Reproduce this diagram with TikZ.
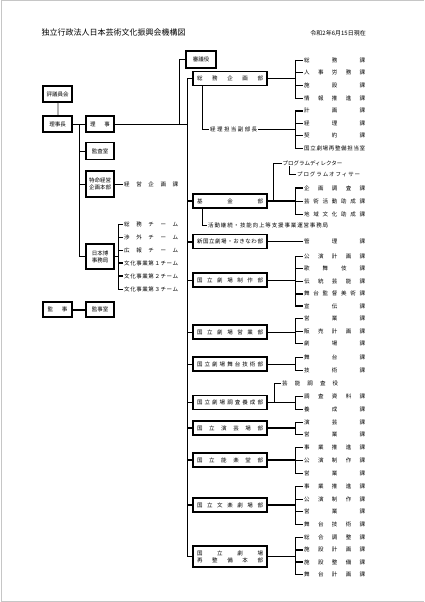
\documentclass[tikz,border=0pt]{standalone}
\usepackage{fontspec}
\setmainfont{Noto Sans CJK JP}
\def\jwend{JWEND}
\newcommand\jwsep[1]{\ifx#1\jwend\else\hfil#1\expandafter\jwsep\fi}
\newcommand\jwfirst[1]{#1\jwsep}
\newcommand\spr[2]{\makebox[#1][s]{\expandafter\jwfirst#2\jwend}}
\newcommand\fsz{\fontsize{5.5}{7}\selectfont}
\tikzset{
  lbox/.style={draw,line width=1.2pt,inner sep=0pt,minimum width=29pt,minimum height=16pt,font=\fsz},
  dbox/.style={draw,line width=1.3pt,inner sep=0pt,minimum width=74pt,minimum height=14pt,font=\fsz},
  item/.style={inner sep=1pt,anchor=west,font=\fsz},
  ln/.style={line width=0.8pt},
  thk/.style={line width=2pt}
}
\newcommand\brk[3]{\draw[ln] (#1.west -| B) -- (#2.west -| B);
  \foreach \i in {#3} \draw[ln] (\i.west -| B) -- (\i.west);}
\begin{document}
\begin{tikzpicture}[x=1pt,y=-1pt]
\useasboundingbox (0,0) rectangle (424,602);
\draw[gray!45,line width=1pt] (424,0.5) -- (1,0.5) -- (1,601.5) -- (424,601.5);
\node[font=\fontsize{8}{9}\selectfont] (title) at (113.5,33) {独立行政法人日本芸術文化振興会機構図};
\node[font=\fontsize{6}{7}\selectfont,anchor=east,inner sep=0pt] (date) at (366,33) {令和2年6月15日現在};
% left side
\node[lbox] (hyogi) at (57.5,94) {評議員会};
\node[lbox] (rijicho) at (57.5,124) {理事長};
\node[lbox,minimum width=28pt] (riji) at (100,124) {\spr{20pt}{理事}};
\node[lbox,minimum width=28pt,minimum height=17pt] (kansa) at (100,151) {監査室};
\node[lbox,minimum width=28pt,minimum height=26pt,align=center] (tokumei) at (100,184) {特命経営\\企画本部};
\node[lbox,minimum width=28pt,minimum height=25pt,align=center] (haku) at (100,256.5) {日本博\\事務局};
\node[lbox,minimum height=15pt] (kanji) at (57.5,309.5) {\spr{20pt}{監事}};
\node[lbox,minimum width=28pt,minimum height=15pt] (kanjishitsu) at (100,309.5) {監事室};
\draw[gray!60,line width=2pt] (hyogi) -- (rijicho);
\draw[ln] (rijicho) -- (riji);
\coordinate (L) at (79,124);
\draw[ln] (L) |- (kansa.west);
\draw[ln] (L) |- (tokumei.west);
\draw[ln] (L) |- (haku.west);
\draw[thk] (kanji) -- (kanjishitsu);
\node[item] (keiei) at (123,184) {\spr{54pt}{経営企画課}};
\draw[ln] (tokumei.east) -- (keiei.west);
\coordinate (TB) at (118,0);
\node[item] (t1) at (123,224) {\spr{54pt}{総務チーム}};
\node[item] (t2) at (123,237) {\spr{54pt}{渉外チーム}};
\node[item] (t3) at (123,250) {\spr{54pt}{広報チーム}};
\node[item] (t4) at (123,263) {\spr{54pt}{文化事業第１チーム}};
\node[item] (t5) at (123,276) {\spr{54pt}{文化事業第２チーム}};
\node[item] (t6) at (123,289) {\spr{54pt}{文化事業第３チーム}};
\draw[ln] (haku.east) -- (haku.east -| TB);
\draw[ln] (t1.west -| TB) -- (t6.west -| TB);
\foreach \i in {t1,t2,t3,t6} \draw[ln] (\i.west -| TB) -- (\i.west);
\foreach \i in {t4,t5} \draw[thk] (\i.west -| TB) -- (\i.west);
% divisions
\node[lbox,minimum width=30pt,minimum height=17pt] (shingi) at (201,59.5) {審議役};
\node[dbox] (somu) at (230,78.5) {\spr{66pt}{総務企画部}};
\node[dbox] (kikin) at (230,201) {\spr{66pt}{基金部}};
\node[dbox] (shinkoku) at (230,241.5) {\spr{66pt}{新国立劇場・おきなわ部}};
\node[dbox] (seisaku) at (230,280) {\spr{66pt}{国立劇場制作部}};
\node[dbox] (eigyo) at (230,332) {\spr{66pt}{国立劇場営業部}};
\node[dbox] (butai) at (230,364) {\spr{66pt}{国立劇場舞台技術部}};
\node[dbox] (chosa) at (230,402.5) {\spr{66pt}{国立劇場調査養成部}};
\node[dbox] (engei) at (230,428) {\spr{66pt}{国立演芸場部}};
\node[dbox] (nogaku) at (230,460) {\spr{66pt}{国立能楽堂部}};
\node[dbox] (bunraku) at (230,505) {\spr{66pt}{国立文楽劇場部}};
\node[dbox,minimum height=21pt,align=center] (saisei) at (230,556.5) {\spr{66pt}{国立劇場}\\\spr{66pt}{再整備本部}};
\coordinate (T) at (187,124);
\coordinate (S) at (179,124);
\draw[ln] (riji.east) -- (T);
\draw[ln] (S) |- (shingi.west);
\draw[ln] (somu.west -| T) -- (saisei.west -| T);
\foreach \d in {somu,seisaku,eigyo,butai,chosa,saisei} \draw[ln] (\d.west -| T) -- (\d.west);
\foreach \d in {kikin,shinkoku,engei,nogaku,bunraku} \draw[thk] (\d.west -| T) -- (\d.west);
\coordinate (B) at (295,0);
% somu
\node[item] (s1) at (303,60) {\spr{61pt}{総務課}};
\node[item] (s2) at (303,72.7) {\spr{61pt}{人事労務課}};
\node[item] (s3) at (303,85.3) {\spr{61pt}{施設課}};
\node[item] (s4) at (303,98) {\spr{61pt}{情報推進課}};
\draw[ln] (somu.east) -- (somu.east -| B);
\brk{s1}{s4}{s1,s2,s3,s4}
\node[item] (keiri) at (209,129.5) {\spr{47pt}{経理担当副部長}};
\draw[ln] ([xshift=-28pt]somu.south) |- (keiri.west);
\node[item] (k1) at (303,110.5) {\spr{61pt}{計画課}};
\node[item] (k2) at (303,123) {\spr{61pt}{経理課}};
\node[item] (k3) at (303,135.8) {\spr{61pt}{契約課}};
\node[item] (k4) at (303,148.5) {\spr{61pt}{国立劇場再整備担当室}};
\draw[ln] (keiri.east) -- (keiri.east -| B);
\brk{k1}{k4}{k2,k3,k4}
\draw[thk] (k1.west -| B) -- (k1.west);
% kikin
\node[item,inner sep=0.5pt] (pd) at (282,163) {プログラムディレクター};
\node[item] (po) at (296,174) {\spr{63pt}{プログラムオフィサー}};
\draw[ln] ([xshift=6pt]kikin.east) |- (pd.west);
\draw[ln] ([xshift=7pt]pd.south west) |- (po.west);
\node[item] (kk1) at (303,188) {\spr{61pt}{企画調査課}};
\node[item] (kk2) at (303,201) {\spr{61pt}{芸術活動助成課}};
\node[item] (kk3) at (303,214) {\spr{61pt}{地域文化助成課}};
\draw[thk] (kikin.east) -- (kikin.east -| B);
\brk{kk1}{kk3}{kk2,kk3}
\draw[thk] (kk1.west -| B) -- (kk1.west);
\node[item] (katsudo) at (207,225.5) {\spr{120pt}{活動継続・技能向上等支援事業運営事務局}};
\draw[ln] ([xshift=-28pt]kikin.south) |- (katsudo.west);
% shinkoku
\node[item] (kanri) at (303,241.5) {\spr{61pt}{管理課}};
\draw[ln] (shinkoku.east) -- (kanri.west);
% seisaku
\node[item] (c1) at (303,256) {\spr{61pt}{公演計画課}};
\node[item] (c2) at (303,268.5) {\spr{61pt}{歌舞伎課}};
\node[item] (c3) at (303,281) {\spr{61pt}{伝統芸能課}};
\node[item] (c4) at (303,293.5) {\spr{61pt}{舞台監督美術課}};
\node[item] (c5) at (303,306) {\spr{61pt}{宣伝課}};
\draw[ln] (seisaku.east) -- (seisaku.east -| B);
\brk{c1}{c5}{c1,c2,c3}
\foreach \i in {c4,c5} \draw[thk] (\i.west -| B) -- (\i.west);
% eigyo
\node[item] (e1) at (303,318.5) {\spr{61pt}{営業課}};
\node[item] (e2) at (303,331) {\spr{61pt}{販売計画課}};
\node[item] (e3) at (303,343.5) {\spr{61pt}{劇場課}};
\draw[ln] (eigyo.east) -- (eigyo.east -| B);
\brk{e1}{e3}{e1,e2,e3}
% butai
\node[item] (b1) at (303,357) {\spr{61pt}{舞台課}};
\node[item] (b2) at (303,370) {\spr{61pt}{技術課}};
\draw[ln] (butai.east) -- (butai.east -| B);
\brk{b1}{b2}{b1,b2}
% chosa
\node[item] (geino) at (281,383.5) {\spr{56pt}{芸能調査役}};
\draw[ln] ([xshift=7pt]chosa.east) |- (geino.west);
\node[item] (y1) at (303,396) {\spr{61pt}{調査資料課}};
\node[item] (y2) at (303,409) {\spr{61pt}{養成課}};
\draw[ln] (chosa.east) -- (chosa.east -| B);
\brk{y1}{y2}{y1,y2}
% engei
\node[item] (g1) at (303,422) {\spr{61pt}{演芸課}};
\node[item] (g2) at (303,434.5) {\spr{61pt}{営業課}};
\draw[thk] (engei.east) -- (engei.east -| B);
\brk{g1}{g2}{g1,g2}
% nogaku
\node[item] (n1) at (303,447) {\spr{61pt}{事業推進課}};
\node[item] (n2) at (303,460) {\spr{61pt}{公演制作課}};
\node[item] (n3) at (303,473) {\spr{61pt}{営業課}};
\draw[thk] (nogaku.east) -- (nogaku.east -| B);
\brk{n1}{n3}{n1,n2,n3}
% bunraku
\node[item] (r1) at (303,486.5) {\spr{61pt}{事業推進課}};
\node[item] (r2) at (303,499) {\spr{61pt}{公演制作課}};
\node[item] (r3) at (303,511.5) {\spr{61pt}{営業課}};
\node[item] (r4) at (303,524) {\spr{61pt}{舞台技術課}};
\draw[thk] (bunraku.east) -- (bunraku.east -| B);
\brk{r1}{r4}{r1,r2,r3,r4}
% saisei
\node[item] (z1) at (303,537) {\spr{61pt}{総合調整課}};
\node[item] (z2) at (303,549.5) {\spr{61pt}{施設計画課}};
\node[item] (z3) at (303,562) {\spr{61pt}{施設整備課}};
\node[item] (z4) at (303,574.5) {\spr{61pt}{舞台計画課}};
\draw[ln] (saisei.east) -- (saisei.east -| B);
\brk{z1}{z4}{z1,z4}
\foreach \i in {z2,z3} \draw[thk] (\i.west -| B) -- (\i.west);
\end{tikzpicture}
\end{document}
